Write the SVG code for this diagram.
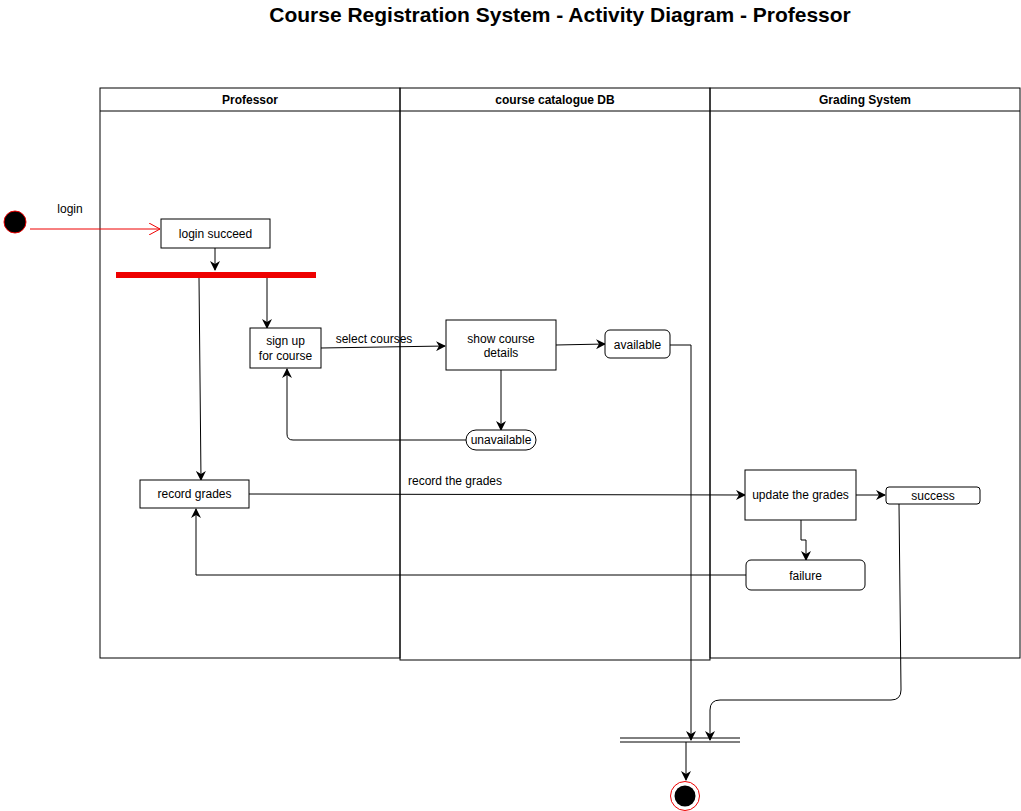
<svg xmlns="http://www.w3.org/2000/svg" width="1021" height="811" viewBox="0 0 1021 811">
<style>
text{font-family:"Liberation Sans",Arial,sans-serif;font-size:12px;fill:#000}
.c{text-anchor:middle}
.b{font-weight:bold}
.box{fill:#fff;stroke:#000;stroke-width:1}
.e{fill:none;stroke:#000;stroke-width:1}
.lane{fill:none;stroke:#000;stroke-width:1}
</style>
<defs>
<marker id="a" viewBox="0 0 10 10" refX="9" refY="5" markerWidth="10" markerHeight="10" markerUnits="userSpaceOnUse" orient="auto"><path d="M0,0 L10,5 L0,10 L3,5 Z" fill="#000"/></marker>
<marker id="ro" viewBox="0 0 12 12" refX="11" refY="6" markerWidth="12" markerHeight="12" markerUnits="userSpaceOnUse" orient="auto"><path d="M0,0 L11,6 L0,12" fill="none" stroke="#e00" stroke-width="1"/></marker>
</defs>
<rect width="1021" height="811" fill="#fff"/>
<text x="560" y="22" class="c b" style="font-size:21px">Course Registration System - Activity Diagram - Professor</text>
<g id="lane-professor">
<rect x="100" y="88" width="300" height="570" class="lane"/>
<line x1="100" y1="111" x2="400" y2="111" class="lane"/>
<text x="250" y="104" class="c b">Professor</text>
</g>
<g id="lane-catalogue">
<rect x="400" y="88" width="310" height="572" class="lane"/>
<line x1="400" y1="111" x2="710" y2="111" class="lane"/>
<text x="555" y="104" class="c b">course catalogue DB</text>
</g>
<g id="lane-grading">
<rect x="710" y="88" width="310" height="570" class="lane"/>
<line x1="710" y1="111" x2="1020" y2="111" class="lane"/>
<text x="865" y="104" class="c b">Grading System</text>
</g>
<g id="connectors">
<path d="M30,229 L160,229" fill="none" stroke="#e00" marker-end="url(#ro)"/>
<text x="70" y="213" class="c">login</text>
<path d="M215,248 L215,270" class="e" marker-end="url(#a)"/>
<path d="M199,278 L201,480" class="e" marker-end="url(#a)"/>
<path d="M267,278 L267,328" class="e" marker-end="url(#a)"/>
<path d="M321,348 L445,346" class="e" marker-end="url(#a)"/>
<text x="374" y="343" class="c">select courses</text>
<path d="M556,345 L605,344" class="e" marker-end="url(#a)"/>
<path d="M670,345 L691,345 L691,740" class="e" marker-end="url(#a)"/>
<path d="M501,370 L501,430" class="e" marker-end="url(#a)"/>
<path d="M466,440 L293,440 Q287,440 287,434 L287,369" class="e" marker-end="url(#a)"/>
<path d="M249,494 L745,495" class="e" marker-end="url(#a)"/>
<text x="455" y="485" class="c">record the grades</text>
<path d="M856,495 L885,495" class="e" marker-end="url(#a)"/>
<path d="M801,520 L801,540 L806,540 L806,560" class="e" marker-end="url(#a)"/>
<path d="M746,575 L196,575 L196,509" class="e" marker-end="url(#a)"/>
<path d="M899,504 L901,690 Q901,700 891,700 L720,700 Q710,700 710,710 L710,740" class="e" marker-end="url(#a)"/>
<path d="M686,742 L686,780" class="e" marker-end="url(#a)"/>
</g>
<g id="initial">
<circle cx="15" cy="222" r="11" fill="#000" stroke="#e00" stroke-width="1"/>
</g>
<g id="login-succeed">
<rect x="161" y="219" width="109" height="29" class="box"/>
<text x="215.5" y="238" class="c">login succeed</text>
</g>
<g id="fork">
<rect x="116" y="272" width="200" height="6" fill="#e00"/>
</g>
<g id="sign-up">
<rect x="250" y="328" width="71" height="40" class="box"/>
<text x="285.5" y="345" class="c">sign up</text>
<text x="285.5" y="360" class="c">for course</text>
</g>
<g id="show-course">
<rect x="446" y="320" width="110" height="50" class="box"/>
<text x="501" y="343" class="c">show course</text>
<text x="501" y="357" class="c">details</text>
</g>
<g id="available">
<rect x="605" y="330" width="65" height="28" rx="5" class="box"/>
<text x="637.5" y="349" class="c">available</text>
</g>
<g id="unavailable">
<rect x="466" y="430" width="70" height="20" rx="10" class="box"/>
<text x="501" y="444" class="c">unavailable</text>
</g>
<g id="record-grades">
<rect x="140" y="480" width="109" height="28" class="box"/>
<text x="194.5" y="498" class="c">record grades</text>
</g>
<g id="update-grades">
<rect x="745" y="470" width="111" height="50" class="box"/>
<text x="800.5" y="499" class="c">update the grades</text>
</g>
<g id="success">
<rect x="886" y="487" width="94" height="17" rx="3" class="box"/>
<text x="933" y="500" class="c">success</text>
</g>
<g id="failure">
<rect x="746" y="560" width="119" height="30" rx="5" class="box"/>
<text x="805.5" y="580" class="c">failure</text>
</g>
<g id="join">
<line x1="620" y1="738" x2="740" y2="738" stroke="#000"/>
<line x1="620" y1="742" x2="740" y2="742" stroke="#000"/>
</g>
<g id="final">
<circle cx="685" cy="796" r="14.5" fill="#fff" stroke="#e00" stroke-width="1"/>
<circle cx="685" cy="796" r="10.5" fill="#000"/>
</g>
</svg>
